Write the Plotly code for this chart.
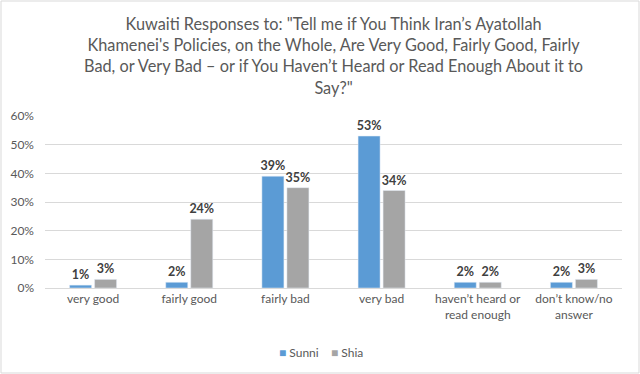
import plotly.graph_objects as go

categories = ["very good", "fairly good", "fairly bad", "very bad",
              "haven’t heard or<br>read enough", "don’t know/no<br>answer"]
sunni = [1, 2, 39, 53, 2, 2]
shia = [3, 24, 35, 34, 2, 3]
tick_vals = [0, 10, 20, 30, 40, 50, 60]
tick_text = ["0%", "10%", "20%", "30%", "40%", "50%", "60%"]
series_names = ["Sunni", "Shia"]
series_colors = ["#5B9BD5", "#A5A5A5"]

title_text = ("Kuwaiti Responses to: \"Tell me if You Think Iran’s Ayatollah<br>"
              "Khamenei's Policies, on the Whole, Are Very Good, Fairly Good, Fairly<br>"
              "Bad, or Very Bad – or if You Haven’t Heard or Read Enough About it to<br>"
              "Say?\"")

W, H = 640, 374
ml, mr, mt, mb = 45, 18, 116, 86
pw, ph = W - ml - mr, H - mt - mb

FONT = "Lato, Open Sans, sans-serif"

def py(px_from_top):
    return (H - mb - px_from_top) / ph

def px(px_from_left):
    return (px_from_left - ml) / pw

fig = go.Figure()
for name, vals, col in zip(series_names, [sunni, shia], series_colors):
    fig.add_trace(go.Bar(x=categories, y=vals, name=name, marker_color=col,
                         text=[f"{v}%" for v in vals], textposition="outside",
                         constraintext="none",
                         textfont=dict(size=12.5, color="#404040", family=FONT, weight="bold"),
                         cliponaxis=False, showlegend=False))

annotations = [dict(text=title_text, x=0.5, xref="paper", y=py(12), yref="paper",
                    xanchor="center", yanchor="top", showarrow=False, align="center",
                    font=dict(size=16.3, color="#595959", family=FONT))]
legend_x = [282, 334]
for name, col, lx in zip(series_names, series_colors, legend_x):
    annotations.append(dict(text=f"<span style='color:{col}'>■</span> {name}",
                            x=px(lx - 5), xref="paper", y=py(352), yref="paper",
                            xanchor="left", yanchor="middle", showarrow=False,
                            font=dict(size=12, color="#595959", family=FONT)))

fig.update_layout(
    width=W, height=H,
    margin=dict(l=ml, r=mr, t=mt, b=mb, autoexpand=False),
    paper_bgcolor="white", plot_bgcolor="white",
    font=dict(family=FONT, color="#595959", size=12),
    barmode="group", bargap=0.48, bargroupgap=0.12,
    showlegend=False,
    xaxis=dict(showgrid=False, showline=True, linecolor="#D9D9D9", ticks="",
               automargin=False, tickfont=dict(size=12, color="#595959")),
    yaxis=dict(range=[0, 60], tickvals=tick_vals, ticktext=tick_text, showgrid=True,
               gridcolor="#D9D9D9", zeroline=False, showline=False, ticks="",
               automargin=False, ticklabelstandoff=10,
               tickfont=dict(size=12, color="#595959")),
    annotations=annotations,
    shapes=[dict(type="rect", xref="paper", yref="paper",
                 x0=px(1), x1=px(W - 1), y0=py(H - 1), y1=py(1),
                 line=dict(color="#D9D9D9", width=1))],
)

fig.write_html("out.html", config={"displayModeBar": False},
               post_script="document.body.style.margin='0';document.body.style.overflow='hidden';")
